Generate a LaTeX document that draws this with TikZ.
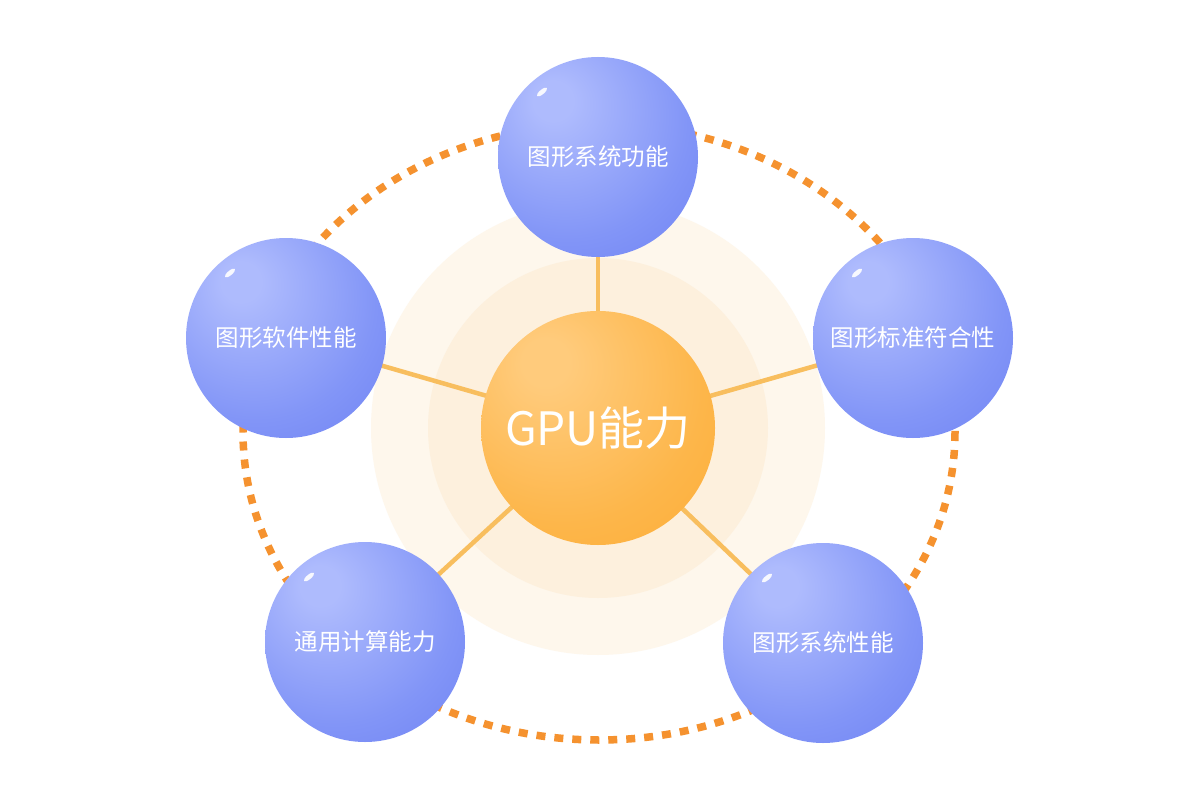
\documentclass[tikz,border=0pt]{standalone}
\usepackage{fontspec}
\setmainfont{Noto Sans CJK SC}
\usetikzlibrary{calc}
\definecolor{bhl}{HTML}{AEBBFD}
\definecolor{bmid}{HTML}{8295F7}
\definecolor{bedge}{HTML}{6074F1}
\definecolor{ohl}{HTML}{FFCB7C}
\definecolor{omid}{HTML}{FDB64A}
\definecolor{oedge}{HTML}{FCA628}
\definecolor{haloout}{HTML}{FEF7EC}
\definecolor{haloin}{HTML}{FDF0DD}
\definecolor{connc}{HTML}{F8BE5E}
\definecolor{dotc}{HTML}{F5922F}
\pgfdeclareradialshading{bluesphere}{\pgfpoint{-12bp}{15bp}}{%
  color(0bp)=(bhl); color(5bp)=(bhl); color(30bp)=(bmid); color(58bp)=(bedge); color(80bp)=(bedge)}
\pgfdeclareradialshading{orangesphere}{\pgfpoint{-12bp}{15bp}}{%
  color(0bp)=(ohl); color(5bp)=(ohl); color(30bp)=(omid); color(58bp)=(oedge); color(80bp)=(oedge)}
\pgfdeclarelayer{bg}
\pgfdeclarelayer{mid}
\pgfsetlayers{bg,mid,main}
\tikzset{
  sphere/.style={circle, minimum size=200pt, inner sep=0pt, shading=bluesphere,
    text=white, font=\fontsize{23.5}{26}\selectfont},
  core/.style={circle, minimum size=234pt, inner sep=0pt, shading=orangesphere,
    text=white, font=\fontsize{46}{50}\selectfont},
  conn/.style={draw=connc, line width=4.5pt},
  dotline/.style={draw=dotc, line width=7.5pt, dash pattern=on 9pt off 9pt},
  shine/.style={fill=white, fill opacity=0.9}
}
\begin{document}
\begin{tikzpicture}[x=1pt, y=-1pt]
\useasboundingbox (0,0) rectangle (1200,800);
% nodes
\node[core] (gpu) at (598,428) {GPU能力};
\node[sphere] (s1) at (598,157) {图形系统功能};
\node[sphere] (s2) at (913,338) {图形标准符合性};
\node[sphere] (s3) at (823,643) {图形系统性能};
\node[sphere] (s4) at (365,642) {通用计算能力};
\node[sphere] (s5) at (286,338) {图形软件性能};
% highlights
\foreach \s in {s1,s2,s3,s4,s5}{
  \coordinate (h\s) at ($(\s)+(-56,-65)$);
  \begin{scope}[shift={(h\s)}, rotate=40]
    \fill[shine] (0,0) ellipse [x radius=6.5, y radius=2.3];
  \end{scope}
}
\begin{pgfonlayer}{bg}
  \fill[white] (0,0) rectangle (1200,800);
  \fill[haloout] (gpu) circle [radius=227];
  \fill[haloin] (gpu) circle [radius=170];
  \draw[dotline] (599,432) ellipse [x radius=356, y radius=308];
\end{pgfonlayer}
\begin{pgfonlayer}{mid}
  \foreach \s in {s1,s2,s3,s4,s5}{ \draw[conn] (gpu.center) -- (\s.center); }
\end{pgfonlayer}
\end{tikzpicture}
\end{document}
